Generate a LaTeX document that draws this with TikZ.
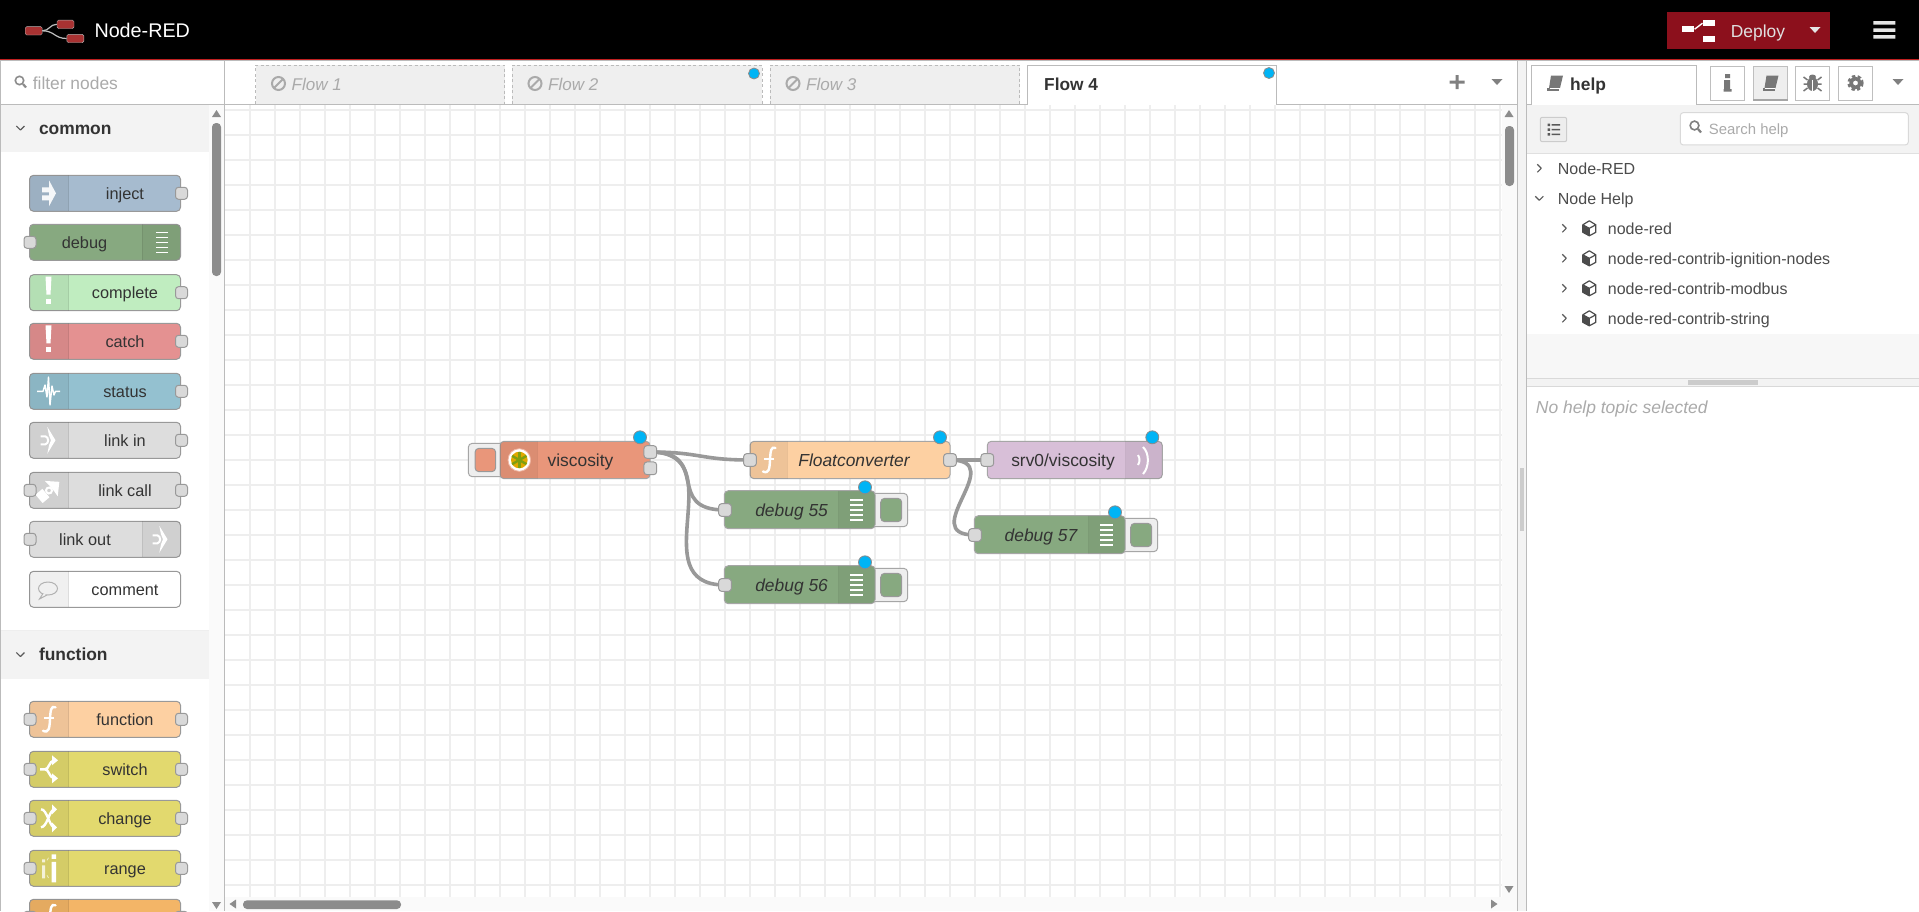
\documentclass[tikz,border=0pt]{standalone}
\usepackage{fontspec}
\setmainfont{Liberation Sans}
\usetikzlibrary{calc}
\pgfdeclarelayer{back}\pgfdeclarelayer{wires}\pgfsetlayers{back,wires,main}
\definecolor{cinject}{HTML}{A6BBCF}
\definecolor{cdebug}{HTML}{87A980}
\definecolor{ccomplete}{HTML}{C0EDC0}
\definecolor{ccatch}{HTML}{E49191}
\definecolor{cstatus}{HTML}{94C1D0}
\definecolor{clink}{HTML}{DDDDDD}
\definecolor{cfunc}{HTML}{FDD0A2}
\definecolor{cswitch}{HTML}{E2D96E}
\definecolor{corange}{HTML}{F3B567}
\definecolor{cvisc}{HTML}{E9967A}
\definecolor{csrv}{HTML}{D8BFD8}
\definecolor{cblue}{HTML}{00B4F5}
\definecolor{cdeploy}{HTML}{8C101C}
\definecolor{cred}{HTML}{C02020}
\definecolor{cgrid}{HTML}{EEEEEE}
\definecolor{cline}{HTML}{BBBBBB}
\definecolor{cstrip}{HTML}{F3F3F3}
\definecolor{cscroll}{HTML}{8C8C8C}
\definecolor{ctxt}{HTML}{333333}
\definecolor{cicon}{HTML}{777777}
\definecolor{cghost}{HTML}{AAAAAA}
\definecolor{clogo}{HTML}{A83232}
\definecolor{cstar}{HTML}{E0A800}
\definecolor{cspoke}{HTML}{7F9F10}
\tikzset{
 x=1pt,y=-1pt,
 boxbase/.style={draw=#1,rounded corners=4,inner sep=0pt,line width=1pt},
 palbox/.style={boxbase=black!40,minimum width=151pt,minimum height=36pt},
 port/.style={draw=black!40,fill=black!15,rounded corners=3,inner sep=0pt,minimum size=12pt,line width=1pt},
 gridline/.style={cgrid,line width=1.5pt},
 wire/.style={draw=black!40,line width=3.6pt},
 dot/.style={circle,draw=black!45,fill=cblue,inner sep=0pt,minimum size=13pt,line width=.8pt},
 labw/.style={inner sep=0pt,anchor=mid west,yshift=-3.6pt},
 labc/.style={inner sep=0pt,anchor=mid,yshift=-3.6pt},
 paltxt/.style={labc,text=ctxt,font=\fontsize{16.3}{18}\selectfont},
 flowtxt/.style={labc,text=ctxt,font=\fontsize{17.4}{20}\selectfont},
 flowit/.style={labc,text=ctxt,font=\fontsize{17.4}{20}\selectfont\itshape},
 headtxt/.style={labw,text=ctxt,font=\fontsize{17.4}{20}\selectfont\bfseries},
 treetxt/.style={labw,text=black!70,font=\fontsize{16}{18}\selectfont},
 ghosttxt/.style={labw,text=cghost,font=\fontsize{17.4}{20}\selectfont},
 tabtxt/.style={labw,text=cghost,font=\fontsize{17}{20}\selectfont\itshape},
 ic/.style={white,fill opacity=.9,draw opacity=.9},
 chev/.style={draw=black!65,line width=1.2pt,line join=round},
}
\newcommand{\band}[6]{\begin{scope}\clip[rounded corners=4] (#1,#2) rectangle (#3,#4);
 \fill[black,opacity=.06] (#5,#2) rectangle (#6,#4);
 \draw[black,opacity=.08,line width=1pt] (#5,#2) -- (#5,#4) (#6,#2) -- (#6,#4);\end{scope}}
% name, ytop, fill, label, labelx, bandfrom, bandto
\newcommand{\palnode}[7]{\pgfmathsetmacro{\ymid}{#2+18}\pgfmathsetmacro{\ybot}{#2+36}
 \node[palbox,fill=#3] (#1) at (105,\ymid) {};
 \band{29.5}{#2}{180.5}{\ybot}{#6}{#7}
 \node[paltxt] (#1t) at (#5,\ymid) {#4};}
\newcommand{\pin}[2]{\pgfmathsetmacro{\ymid}{#2+18}\node[port] (#1i) at (30,\ymid) {};}
\newcommand{\pout}[2]{\pgfmathsetmacro{\ymid}{#2+18}\node[port] (#1o) at (181.5,\ymid) {};}
% name x1 y1 x2 y2 colour bandfrom bandto
\newcommand{\flownode}[8]{\pgfmathsetmacro{\ncx}{(#2+#4)/2}\pgfmathsetmacro{\ncy}{(#3+#5)/2}
 \pgfmathsetmacro{\nwd}{#4-#2}\pgfmathsetmacro{\nhh}{#5-#3}
 \node[boxbase=black!35,fill=#6,minimum width=\nwd pt,minimum height=\nhh pt] (#1) at (\ncx,\ncy) {};
 \band{#2}{#3}{#4}{#5}{#7}{#8}}
% name x1 x2 yc ix1 ix2 colour
\newcommand{\btnnode}[7]{\pgfmathsetmacro{\ncx}{(#2+#3)/2}\pgfmathsetmacro{\nwd}{#3-#2}
 \node[boxbase=black!35,fill=cgrid,minimum width=\nwd pt,minimum height=33.4pt] (#1) at (\ncx,#4) {};
 \pgfmathsetmacro{\ncx}{(#5+#6)/2}\pgfmathsetmacro{\nwd}{#6-#5}
 \node[boxbase=black!40,fill=#7,minimum width=\nwd pt,minimum height=23.4pt] (#1i) at (\ncx,#4) {};}
\newcommand{\bars}[3]{\begin{scope}[shift={(#1,#2)}]\foreach \yy in {-10,-5,0,5,10}{\fill[white] (-#3,\yy-.8) rectangle (#3,\yy+.8);}\end{scope}}
\newcommand{\icarrow}[2]{\begin{scope}[shift={(#1,#2)}]\fill[ic] (-7,-6) rectangle (0,-1) (-7,2) rectangle (0,7);\fill[ic] (0,-13) -- (7,0) -- (0,13) -- cycle;\end{scope}}
\newcommand{\iclink}[2]{\begin{scope}[shift={(#1,#2)}]\fill[white] (-1.2,-13.5) -- (7,0) -- (-1.2,13.5) -- (.5,5) -- (2.5,0) -- (.5,-5) -- cycle;\draw[white,line width=2pt] (-8,-4) -- (-3,-4) .. controls (.5,-3) and (.5,3) .. (-3,4) -- (-8,4);\end{scope}}
\newcommand{\icbang}[2]{\begin{scope}[shift={(#1,#2)}]\fill[white] (-3,-16) -- (3,-16) -- (2,2) -- (-2,2) -- cycle;\fill[white] (-2.5,6) rectangle (2.5,11);\end{scope}}
\newcommand{\icf}[2]{\begin{scope}[shift={(#1,#2)}]\draw[white,line width=2.4pt,line cap=round] (6.5,-12) .. controls (2,-14) and (1.5,-9) .. (1,0) .. controls (.5,9) and (0,14) .. (-6,11.5);\draw[white,line width=2pt] (-5,-1) -- (5,-1);\end{scope}}
\newcommand{\icban}[2]{\begin{scope}[shift={(#1,#2)}]\draw[cghost,line width=2pt] (0,0) circle (6.5);\draw[cghost,line width=2pt] (-4.5,4.5) -- (4.5,-4.5);\end{scope}}
\newcommand{\icmag}[4]{\begin{scope}[shift={(#1,#2)}]\draw[#3,line width=1.6pt] (-1.5,-1.5) circle (#4);\draw[#3,line width=2.2pt] (2,2) -- (5,5.5);\end{scope}}
\newcommand{\cright}[2]{\draw[chev] (#1-2,#2-4) -- (#1+2,#2) -- (#1-2,#2+4);}
\newcommand{\cdown}[2]{\draw[chev] (#1-4,#2-2) -- (#1,#2+2) -- (#1+4,#2-2);}
\newcommand{\caretd}[3]{\fill[#3] (#1-5.5,#2-3) -- (#1+5.5,#2-3) -- (#1,#2+3) -- cycle;}
\newcommand{\cubeic}[2]{\begin{scope}[shift={(#1,#2)}]\fill[black!70] (-6.5,-3.5) -- (0,0) -- (0,7.5) -- (-6.5,4) -- cycle;\draw[black!70,line width=1.2pt,line join=round] (0,-7.5) -- (6.5,-3.5) -- (6.5,4) -- (0,7.5) -- (-6.5,4) -- (-6.5,-3.5) -- cycle (-6.5,-3.5) -- (0,0) -- (6.5,-3.5) (0,0) -- (0,7.5);\end{scope}}
\newcommand{\bookic}[2]{\begin{scope}[shift={(#1,#2)}]\fill[cicon] (-4,-7.5) -- (8,-7.5) -- (5,5) -- (-6,5) -- cycle;\fill[cicon] (-8,5) -- (4,5) -- (4,7.5) -- (-8,7.5) -- cycle;\draw[white,line width=.8pt] (-5.5,5.2) -- (4.5,5.2);\end{scope}}
\begin{document}
\begin{tikzpicture}
\useasboundingbox (0,0) rectangle (1919,911);
\begin{pgfonlayer}{back}
\fill[white] (0,0) rectangle (1919,911);
% workspace grid
\foreach \x in {250,275,...,1500}{\draw[gridline] (\x,105) -- (\x,897);}
\foreach \y in {110,135,...,885}{\draw[gridline] (225,\y) -- (1501.5,\y);}
\end{pgfonlayer}
% header
\fill[black] (0,0) rectangle (1919,58.5);
\fill[cred] (0,58.5) rectangle (1919,60.3);
\draw[cline,line width=1pt] (0,60.8) -- (1919,60.8);
\node[rectangle,fill=clogo,draw=black!30,rounded corners=1.5,inner sep=0pt,minimum width=17pt,minimum height=8.4pt] (logoa) at (33.7,30.8) {};
\node[rectangle,fill=clogo,draw=black!30,rounded corners=1.5,inner sep=0pt,minimum width=17pt,minimum height=8.4pt] (logob) at (65.5,24.3) {};
\node[rectangle,fill=clogo,draw=black!30,rounded corners=1.5,inner sep=0pt,minimum width=17pt,minimum height=8.4pt] (logoc) at (75.3,38.5) {};
\draw[black!25,line width=1.2pt] (logoa.east) .. controls +(7,0) and +(-7,0) .. (logob.west);
\draw[black!25,line width=1.2pt] (logoa.east) .. controls +(12,0) and +(-12,0) .. (logoc.west);
\node[labw,text=white,font=\fontsize{19.75}{22}\selectfont] (brand) at (94.3,31) {Node-RED};
\node[fill=cdeploy,inner sep=0pt,minimum width=163pt,minimum height=37pt] (deploy) at (1748.5,30.5) {};
\node[fill=white,inner sep=0pt,minimum width=12.4pt,minimum height=6.3pt] (depa) at (1688.2,29.2) {};
\node[fill=white,inner sep=0pt,minimum width=12.4pt,minimum height=6.3pt] (depb) at (1708.9,23.2) {};
\node[fill=white,inner sep=0pt,minimum width=12.4pt,minimum height=6.3pt] (depc) at (1708.9,38.7) {};
\draw[white,line width=1.4pt] (depa.east) -- (depb.west);
\node[labw,text=white!88!black,font=\fontsize{17.4}{20}\selectfont] (deptxt) at (1730.7,31) {Deploy};
\caretd{1815}{30}{white!90!black}
\fill[white!90!black] (1873.3,21) rectangle (1895.3,24.5) (1873.3,28.3) rectangle (1895.3,31.8) (1873.3,35) rectangle (1895.3,38.5);
% palette chrome
\draw[cline,line width=1.2pt] (.6,60.8) -- (.6,911);
\draw[cline,line width=1pt] (224.5,60.8) -- (224.5,911);
\draw[cline,line width=1pt] (0,104.3) -- (224.5,104.3);
\fill[cstrip] (1.2,105) rectangle (209,152);
\fill[white!98!black] (209,105) rectangle (224,911);
\fill[cgrid] (1.2,630) rectangle (209,631);
\fill[cstrip] (1.2,631) rectangle (209,679);
\icmag{21}{82}{black!45}{4.2}
\node[ghosttxt] (filt) at (32.6,83) {filter nodes};
\cdown{20.4}{128}
\node[headtxt] (hcommon) at (38.8,128) {common};
\cdown{20.4}{654.5}
\node[headtxt] (hfunc) at (38.8,654.5) {function};
\fill[cscroll] (216.5,110) -- (221,117) -- (212,117) -- cycle;
\fill[cscroll] (212,902) -- (221,902) -- (216.5,909) -- cycle;
\fill[cscroll,rounded corners=4] (212,123) rectangle (221,276);
% palette nodes
\palnode{inject}{175.3}{cinject}{inject}{125}{29.5}{68.5}
\icarrow{49}{193.3}\pout{inject}{175.3}
\palnode{debug}{224.3}{cdebug}{debug}{84.5}{142.4}{180.5}
\bars{161.5}{242.3}{6}\pin{debug}{224.3}
\palnode{complete}{274.7}{ccomplete}{complete}{125}{29.5}{68.5}
\icbang{48.5}{292.7}\pout{complete}{274.7}
\palnode{catch}{323.3}{ccatch}{catch}{125}{29.5}{68.5}
\icbang{48.5}{341.3}\pout{catch}{323.3}
\palnode{status}{373.3}{cstatus}{status}{125}{29.5}{68.5}
\draw[white,line width=1.4pt,line join=round] (37,391.3) -- (43,391.3) -- (45,385) -- (47,397) -- (48.5,377) -- (50,405) -- (52,386) -- (54,395) -- (55.5,391.3) -- (60,391.3);
\pout{status}{373.3}
\palnode{linkin}{422.3}{clink}{link in}{125}{29.5}{68.5}
\iclink{48.5}{440.3}\pout{linkin}{422.3}
\palnode{linkcall}{472.3}{clink}{link call}{125}{29.5}{68.5}
\begin{scope}[shift={(49,490.5)},rotate=40]
 \fill[white] (13.5,0) -- (3,-10) -- (3.5,-3.5) -- (3.5,3.5) -- (3,10) -- cycle;
 \draw[white,line width=2pt] (0,0) circle (3);
 \fill[white] (-13,-5.5) rectangle (-4,5.5);
\end{scope}
\pin{linkcall}{472.3}\pout{linkcall}{472.3}
\palnode{linkout}{521.3}{clink}{link out}{85}{142.4}{180.5}
\iclink{160.5}{539.3}\pin{linkout}{521.3}
\palnode{comment}{571.3}{white}{comment}{125}{29.5}{68.5}
\draw[black!30,line width=1pt] (48,588.5) ellipse (9.5 and 6.5);
\draw[black!30,line width=1pt,fill=white!95!black] (43,593.5) -- (39.5,599) -- (47,595);
\palnode{function}{701.3}{cfunc}{function}{125}{29.5}{68.5}
\icf{49}{719.3}\pin{function}{701.3}\pout{function}{701.3}
\palnode{switch}{751.3}{cswitch}{switch}{125}{29.5}{68.5}
\begin{scope}[shift={(49,769.3)}]\draw[white,line width=2.4pt] (-9,0) -- (-4,0) .. controls (0,0) and (0,-8) .. (5,-9) (-4,0) .. controls (0,0) and (0,8) .. (5,9);\fill[white] (3,-14) -- (9,-9) -- (3,-4) -- cycle (3,4) -- (9,9) -- (3,14) -- cycle;\end{scope}
\pin{switch}{751.3}\pout{switch}{751.3}
\palnode{change}{800.3}{cswitch}{change}{125}{29.5}{68.5}
\begin{scope}[shift={(49,818.3)}]\draw[white,line width=2.4pt] (-8,-9) .. controls (-2,-9) and (0,7) .. (5,9) (-8,9) .. controls (-2,9) and (0,-7) .. (5,-9);\fill[white] (3,-14) -- (8,-9) -- (3,-4) -- cycle (3,4) -- (8,9) -- (3,14) -- cycle;\end{scope}
\pin{change}{800.3}\pout{change}{800.3}
\palnode{range}{850.3}{cswitch}{range}{125}{29.5}{68.5}
\begin{scope}[shift={(49,868.3)}]\fill[white] (2.5,-14) rectangle (7,-9.5) (2.5,-6.5) rectangle (7,14);\fill[white,opacity=.75] (-7,-9) rectangle (-4,-6) (-7,-3) rectangle (-4,10);\draw[white,opacity=.6,line width=.8pt,dashed] (-2,-8) -- (1,-13) (-2,7) -- (1,12);\end{scope}
\pin{range}{850.3}\pout{range}{850.3}
\begin{scope}\clip (0,880) rectangle (224,911);
\palnode{extra}{899.3}{corange}{}{125}{29.5}{68.5}
\icf{49}{917.3}\pin{extra}{899.3}\pout{extra}{899.3}
\end{scope}
% tab bar
\draw[cline,line width=1pt] (224.5,104.3) -- (1517,104.3);
\foreach \xa/\xb/\nm in {255.5/504.5/1,512/762/2,770/1019.7/3}{
 \fill[cgrid!95!white] (\xa,65) rectangle (\xb,104);
 \draw[cline,line width=1pt,dash pattern=on 3pt off 2.5pt] (\xa,104) -- (\xa,65) -- (\xb,65) -- (\xb,104);
 \pgfmathsetmacro{\xi}{\xa+23}\pgfmathsetmacro{\xt}{\xa+36}
 \icban{\xi}{83.5}
 \node[tabtxt] (flowtab\nm) at (\xt,84) {Flow \nm};
}
\fill[white] (1027.3,65) rectangle (1276.7,105);
\draw[cline,line width=1pt] (1027.3,104.5) -- (1027.3,65) -- (1276.7,65) -- (1276.7,104.5);
\node[labw,text=ctxt,font=\fontsize{17.3}{20}\selectfont\bfseries] (flowtab4) at (1044,84) {Flow 4};
\node[dot,minimum size=11pt] (tabdota) at (754,73.5) {};
\node[dot,minimum size=11pt] (tabdotb) at (1269,73) {};
\fill[black!50] (1449.5,80.5) rectangle (1464.5,83.5) (1455.5,75) rectangle (1458.5,89);
\caretd{1497}{82}{black!50}
% scrollbars
\fill[white!98!black] (1501.5,105) rectangle (1517,911);
\fill[white!98!black] (225,897) rectangle (1517,911);
\fill[cscroll] (1509,110) -- (1513.5,117) -- (1504.5,117) -- cycle;
\fill[cscroll,rounded corners=4] (1505,126) rectangle (1514,186);
\fill[cscroll] (1504.5,886) -- (1513.5,886) -- (1509,893) -- cycle;
\fill[cscroll] (229.5,904) -- (236,899.5) -- (236,908.5) -- cycle;
\fill[cscroll,rounded corners=4] (243,900.3) rectangle (401,909);
\fill[cscroll] (1497.5,904) -- (1491,899.5) -- (1491,908.5) -- cycle;
% splitter
\fill[cstrip] (1517.5,61) rectangle (1526.5,911);
\draw[cline,line width=1pt] (1517.3,61) -- (1517.3,911) (1526.7,61) -- (1526.7,911);
\fill[black!20] (1520,468) rectangle (1524,530.7);
% sidebar
\draw[cline,line width=1pt] (1527,104.3) -- (1919,104.3);
\fill[cstrip] (1527,105) rectangle (1919,153);
\draw[black!12,line width=1pt] (1527,153.5) -- (1919,153.5);
\fill[white] (1531.3,65) rectangle (1696.7,105);
\draw[cline,line width=1pt] (1531.3,104.5) -- (1531.3,65) -- (1696.7,65) -- (1696.7,104.5);
\bookic{1555}{83}
\node[labw,text=ctxt,font=\fontsize{17.4}{20}\selectfont\bfseries] (helptab) at (1570,84) {help};
\foreach \xa/\nm in {1710.3/bi,1795.3/bg,1838.3/bc}{
 \pgfmathsetmacro{\xc}{\xa+17.2}
 \node[draw=black!25,fill=white,inner sep=0pt,minimum width=34.4pt,minimum height=34pt,line width=1pt] (\nm) at (\xc,83.3) {};
}
\node[draw=black!25,fill=cgrid,inner sep=0pt,minimum width=34.4pt,minimum height=34pt,line width=1pt] (bb) at (1770.5,83.3) {};
\fill[black!35] (1753,98.8) rectangle (1788,100.6);
\bookic{1770.5}{83}
\begin{scope}[shift={(1727.5,83)}]\fill[cicon] (-2.5,-9) rectangle (2.5,-5) (-3.5,-3) rectangle (2.5,6) (-4,6) rectangle (4,8.5);\end{scope}
\begin{scope}[shift={(1812.5,83)}]\fill[cicon] (0,1) ellipse (5.5 and 7);\fill[cicon] (0,-6) ellipse (3.5 and 2.5);\draw[cicon,line width=1.5pt] (-9,-6) -- (-5,-3) (9,-6) -- (5,-3) (-9,1) -- (-5,1) (9,1) -- (5,1) (-9,8) -- (-5,5) (9,8) -- (5,5);\draw[white,line width=.8pt] (0,-3) -- (0,8);\end{scope}
\begin{scope}[shift={(1855.5,83)}]\draw[cicon,line width=3pt,dash pattern=on 3.2pt off 2.3pt] (0,0) circle (6.6);\draw[cicon,line width=3.5pt] (0,0) circle (4.4);\end{scope}
\caretd{1898}{82}{black!50}
\node[draw=black!20,fill=black!7,rounded corners=2,inner sep=0pt,minimum width=26.4pt,minimum height=24.4pt,line width=1pt] (listbtn) at (1553.5,129.5) {};
\fill[black!65] (1547.5,123.5) rectangle (1550,126) (1547.5,128.3) rectangle (1550,130.8) (1547.5,133) rectangle (1550,135.5) (1551.5,124) rectangle (1560,125.6) (1551.5,128.8) rectangle (1560,130.4) (1551.5,133.6) rectangle (1560,135.2);
\node[draw=black!15,fill=white,rounded corners=3,inner sep=0pt,minimum width=228pt,minimum height=32.3pt,line width=1pt] (searchbox) at (1794.3,128.8) {};
\icmag{1696}{127}{black!50}{4.4}
\node[labw,yshift=.8pt,text=cghost,font=\fontsize{14.9}{18}\selectfont] (searchtxt) at (1708.7,129) {Search help};
\cright{1539.3}{168.3}
\node[treetxt] (t1) at (1557.7,168.3) {Node-RED};
\cdown{1539.3}{198.3}
\node[treetxt] (t2) at (1557.7,198.3) {Node Help};
\foreach \yy/\nm/\lbltxt in {228.3/t3/node-red,258.3/t4/node-red-contrib-ignition-nodes,288.3/t5/node-red-contrib-modbus,318.3/t6/node-red-contrib-string}{
 \cright{1564.3}{\yy}\cubeic{1589.3}{\yy}
 \node[treetxt] (\nm) at (1607.7,\yy) {\lbltxt};
}
\fill[white!97!black] (1527.3,334) rectangle (1919,378.3);
\fill[cstrip] (1527.3,378.3) rectangle (1919,386.7);
\draw[black!15,line width=.8pt] (1527.3,378.3) -- (1919,378.3) (1527.3,386.7) -- (1919,386.7);
\fill[black!20] (1688,380.3) rectangle (1758,384.7);
\node[labw,text=cghost,font=\fontsize{17.45}{20}\selectfont\itshape] (nohelp) at (1535.7,407.5) {No help topic selected};
% flow: nodes
\btnnode{vbtn}{468.3}{505}{460}{475}{495.7}{cvisc}
\flownode{visc}{500}{441.3}{650}{478.7}{cvisc}{500}{537}
\draw[cvisc!70!white,fill=white,line width=.8pt] (519.3,460) circle (11.3);
\fill[cstar] (519.3,460) circle (8.3);
\foreach \a in {0,60,120}{\draw[cspoke,line width=2.4pt,rotate around={\a:(519.3,460)}] (519.3,451.7) -- (519.3,468.3);}
\node[flowtxt] (visct) at (580.5,460) {viscosity};
\node[port,minimum size=12.7pt] (visco1) at (650.3,452) {};
\node[port,minimum size=12.7pt] (visco2) at (650.3,468.3) {};
\node[dot] (viscd) at (640,437.3) {};
\flownode{floatc}{750}{441.3}{950}{478.7}{cfunc}{750}{787.3}
\icf{769}{460}
\node[flowit] (floatt) at (854,460) {Floatconverter};
\node[port,minimum size=12.7pt] (floati) at (750,460) {};
\node[port,minimum size=12.7pt] (floato) at (950,460) {};
\node[dot] (floatd) at (940,437.3) {};
\flownode{srv}{987.3}{441.3}{1162.3}{478.7}{csrv}{1125.7}{1162.3}
\draw[white,line width=2pt] (1138,455) .. controls (1140,458) and (1140,462) .. (1138,465);
\draw[white,line width=2pt] (1143,447) .. controls (1149.5,453) and (1149.5,467) .. (1143,474);
\node[flowtxt] (srvt) at (1063,460) {srv0/viscosity};
\node[port,minimum size=12.7pt] (srvi) at (987.3,460) {};
\node[dot] (srvd) at (1152.3,437.3) {};
\btnnode{d55b}{870}{907.7}{510}{880.7}{901.7}{cdebug}
\flownode{d55}{724.3}{490.7}{875}{528.7}{cdebug}{838.7}{875}
\bars{856}{510}{6.5}
\node[flowit] (d55t) at (791.6,510) {debug 55};
\node[port,minimum size=12.7pt] (d55i) at (725,510) {};
\node[dot] (d55d) at (865,487.3) {};
\btnnode{d56b}{870}{907.7}{585}{880.7}{901.7}{cdebug}
\flownode{d56}{724.3}{565.7}{875}{603.7}{cdebug}{838.7}{875}
\bars{856}{585}{6.5}
\node[flowit] (d56t) at (791.6,585) {debug 56};
\node[port,minimum size=12.7pt] (d56i) at (725,585) {};
\node[dot] (d56d) at (865,562.3) {};
\btnnode{d57b}{1120}{1157.7}{535}{1130.7}{1151.7}{cdebug}
\flownode{d57}{974.3}{515.7}{1125}{553.7}{cdebug}{1088.7}{1125}
\bars{1106}{535}{6.5}
\node[flowit] (d57t) at (1041,535) {debug 57};
\node[port,minimum size=12.7pt] (d57i) at (975,535) {};
\node[dot] (d57d) at (1115,512.3) {};
% wires
\begin{pgfonlayer}{wires}
\draw[wire] (visco1.center) .. controls +(50,0) and +(-50,0) .. (floati.center);
\draw[wire] (visco1.center) .. controls +(62,0) and +(-62,0) .. (d55i.center);
\draw[wire] (visco1.center) .. controls +(85,0) and +(-85,0) .. (d56i.center);
\draw[wire] (floato.center) -- (srvi.center);
\draw[wire] (floato.center) .. controls +(60,0) and +(-60,0) .. (d57i.center);
\end{pgfonlayer}
\end{tikzpicture}
\end{document}
